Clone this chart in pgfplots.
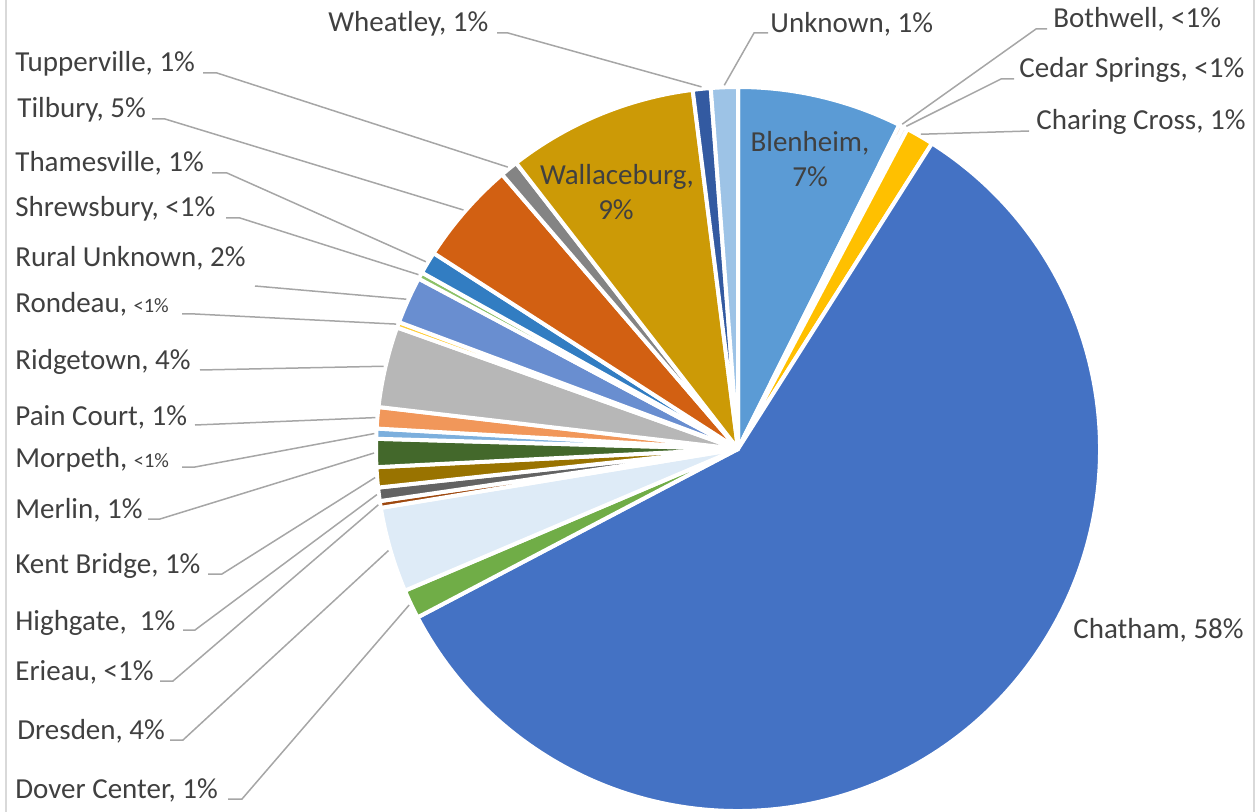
\documentclass[border=0pt]{standalone}
\usepackage{pgfplots}
\pgfplotsset{compat=1.18}
\usepackage{pgfplotstable}
\usepackage{fontspec}
\setmainfont{Carlito}

\definecolor{txt}{HTML}{404040}
\definecolor{lead}{HTML}{A6A6A6}
\definecolor{frame}{HTML}{D9D9D9}

% share of each place, in percent, in the order Excel draws them (clockwise from 12 o'clock)
\pgfplotstableread[col sep=comma]{
name,value,hex
Blenheim,7.35,5B9BD5
Bothwell,0.2,ED7D31
Cedar Springs,0.2,A5A5A5
Charing Cross,1.25,FFC000
Chatham,58.3,4472C4
Dover Center,1.3,70AD47
Dresden,3.8,DEEBF7
Erieau,0.3,9E480E
Highgate,0.6,636363
Kent Bridge,0.9,997300
Merlin,1.25,43682B
Morpeth,0.45,7CAFDD
Pain Court,0.95,F1975A
Ridgetown,3.6,B7B7B7
Rondeau,0.25,FFCD33
Rural Unknown,2.1,698ED0
Shrewsbury,0.3,8CC168
Thamesville,1.0,327DC2
Tilbury,4.6,D26012
Tupperville,0.8,848484
Wallaceburg,8.5,CC9A06
Wheatley,0.8,335AA1
Unknown,1.2,9DC3E6
}\piedata

% start / end / middle angle of every slice
\pgfplotstablegetrowsof{\piedata}
\pgfmathtruncatemacro\lastrow{\pgfplotsretval-1}
\xdef\cumangle{90}
\pgfplotsforeachungrouped \i in {0,...,\lastrow}{%
  \pgfplotstablegetelem{\i}{value}\of\piedata
  \pgfmathsetmacro\endangle{\cumangle-3.6*\pgfplotsretval}%
  \pgfmathsetmacro\midangle{(\cumangle+\endangle)/2}%
  \expandafter\xdef\csname sa\i\endcsname{\cumangle}%
  \expandafter\xdef\csname ea\i\endcsname{\endangle}%
  \expandafter\xdef\csname ma\i\endcsname{\midangle}%
  \pgfplotstablegetelem{\i}{hex}\of\piedata
  \definecolor{slice\i}{HTML}{\pgfplotsretval}%
  \xdef\cumangle{\endangle}%
}

\newcommand\sm[1]{{\fontsize{10.2}{12}\selectfont #1}}

\begin{document}
\begin{tikzpicture}[font=\fontsize{14.5}{17}\selectfont]
\begin{axis}[
    name=pie,
    x=0.5pt, y=0.5pt,
    xmin=0, xmax=1257, ymin=0, ymax=812,
    y dir=reverse,
    xtick=\empty, ytick=\empty,
    hide axis, clip=false,
]

% slices
\pgfplotsinvokeforeach{0,...,22}{
  \fill[slice#1, draw=white, line width=2pt, line join=round]
    (axis cs:738,449) -- ++(\csname sa#1\endcsname:181pt)
    arc[start angle=\csname sa#1\endcsname, end angle=\csname ea#1\endcsname, radius=181pt] -- cycle;
}

% chart area border (left and right edges visible)
\draw[frame, line width=0.8pt] (axis cs:6,0) -- (axis cs:6,812);
\draw[frame, line width=0.8pt] (axis cs:1254,0) -- (axis cs:1254,812);

\tikzset{lbl/.style={anchor=base west, inner sep=0pt, text=txt},
         ll/.style={lead, line width=0.75pt}}

% leader lines: label -> middle of the slice
\draw[ll] (axis cs:203,73) -- (axis cs:217,73) -- ([shift={(\csname ma19\endcsname:182pt)}]axis cs:738,449);
\draw[ll] (axis cs:152,119) -- (axis cs:165,119) -- ([shift={(\csname ma18\endcsname:182pt)}]axis cs:738,449);
\draw[ll] (axis cs:212,173) -- (axis cs:227,173) -- ([shift={(\csname ma17\endcsname:182pt)}]axis cs:738,449);
\draw[ll] (axis cs:226,218) -- (axis cs:240,218) -- ([shift={(\csname ma16\endcsname:182pt)}]axis cs:738,449);
\draw[ll] (axis cs:255,286) -- ([shift={(\csname ma15\endcsname:182pt)}]axis cs:738,449);
\draw[ll] (axis cs:182,314) -- (axis cs:195,314) -- ([shift={(\csname ma14\endcsname:182pt)}]axis cs:738,449);
\draw[ll] (axis cs:200,370) -- ([shift={(\csname ma13\endcsname:182pt)}]axis cs:738,449);
\draw[ll] (axis cs:195,425) -- ([shift={(\csname ma12\endcsname:182pt)}]axis cs:738,449);
\draw[ll] (axis cs:182,467) -- (axis cs:195,467) -- ([shift={(\csname ma11\endcsname:182pt)}]axis cs:738,449);
\draw[ll] (axis cs:148,519) -- (axis cs:160,519) -- ([shift={(\csname ma10\endcsname:182pt)}]axis cs:738,449);
\draw[ll] (axis cs:208,574) -- (axis cs:222,574) -- ([shift={(\csname ma9\endcsname:182pt)}]axis cs:738,449);
\draw[ll] (axis cs:183,630) -- (axis cs:195,630) -- ([shift={(\csname ma8\endcsname:182pt)}]axis cs:738,449);
\draw[ll] (axis cs:160,681) -- (axis cs:173,681) -- ([shift={(\csname ma7\endcsname:182pt)}]axis cs:738,449);
\draw[ll] (axis cs:170,740) -- (axis cs:183,740) -- ([shift={(\csname ma6\endcsname:182pt)}]axis cs:738,449);
\draw[ll] (axis cs:228,799) -- (axis cs:242,799) -- ([shift={(\csname ma5\endcsname:182pt)}]axis cs:738,449);
\draw[ll] (axis cs:497,33) -- (axis cs:508,33) -- ([shift={(\csname ma21\endcsname:182pt)}]axis cs:738,449);
\draw[ll] (axis cs:768,33) -- (axis cs:754,33) -- ([shift={(\csname ma22\endcsname:182pt)}]axis cs:738,449);
\draw[ll] (axis cs:1047,29) -- (axis cs:1036,29) -- ([shift={(\csname ma1\endcsname:182pt)}]axis cs:738,449);
\draw[ll] (axis cs:1014,79) -- (axis cs:1001,79) -- ([shift={(\csname ma2\endcsname:182pt)}]axis cs:738,449);
\draw[ll] (axis cs:1029,131) -- ([shift={(\csname ma3\endcsname:182pt)}]axis cs:738,449);

% labels
\node[lbl] at (axis cs:15,72) {Tupperville, 1\%};
\node[lbl] at (axis cs:17,118) {Tilbury, 5\%};
\node[lbl] at (axis cs:15,172) {Thamesville, 1\%};
\node[lbl] at (axis cs:15,217) {Shrewsbury, <1\%};
\node[lbl] at (axis cs:15,267) {Rural Unknown, 2\%};
\node[lbl] at (axis cs:15,313) {Rondeau, \sm{<1\%}};
\node[lbl] at (axis cs:15,370) {Ridgetown, 4\%};
\node[lbl] at (axis cs:15,425) {Pain Court, 1\%};
\node[lbl] at (axis cs:15,467) {Morpeth, \sm{<1\%}};
\node[lbl] at (axis cs:15,518) {Merlin, 1\%};
\node[lbl] at (axis cs:15,573) {Kent Bridge, 1\%};
\node[lbl] at (axis cs:15,630) {Highgate,\ \ 1\%};
\node[lbl] at (axis cs:15,680) {Erieau, <1\%};
\node[lbl] at (axis cs:17,739) {Dresden, 4\%};
\node[lbl] at (axis cs:15,798) {Dover Center, 1\%};
\node[lbl] at (axis cs:328,32) {Wheatley, 1\%};
\node[lbl] at (axis cs:770,33) {Unknown, 1\%};
\node[lbl] at (axis cs:1053,28) {Bothwell, <1\%};
\node[lbl] at (axis cs:1019,78) {Cedar Springs, <1\%};
\node[lbl] at (axis cs:1036,130) {Charing Cross, 1\%};
\node[lbl] at (axis cs:1073,638) {Chatham, 58\%};

\tikzset{inl/.style={anchor=base, inner sep=0pt, text=txt}}
\node[inl] at (axis cs:810,152) {Blenheim,};
\node[inl] at (axis cs:810,187) {7\%};
\node[inl] at (axis cs:617,185) {Wallaceburg,};
\node[inl] at (axis cs:616,220) {9\%};

\coordinate (bbA) at (axis cs:0,0);
\coordinate (bbB) at (axis cs:1257,812);
\end{axis}
\pgfresetboundingbox
\path (bbA) rectangle (bbB);
\end{tikzpicture}
\end{document}
